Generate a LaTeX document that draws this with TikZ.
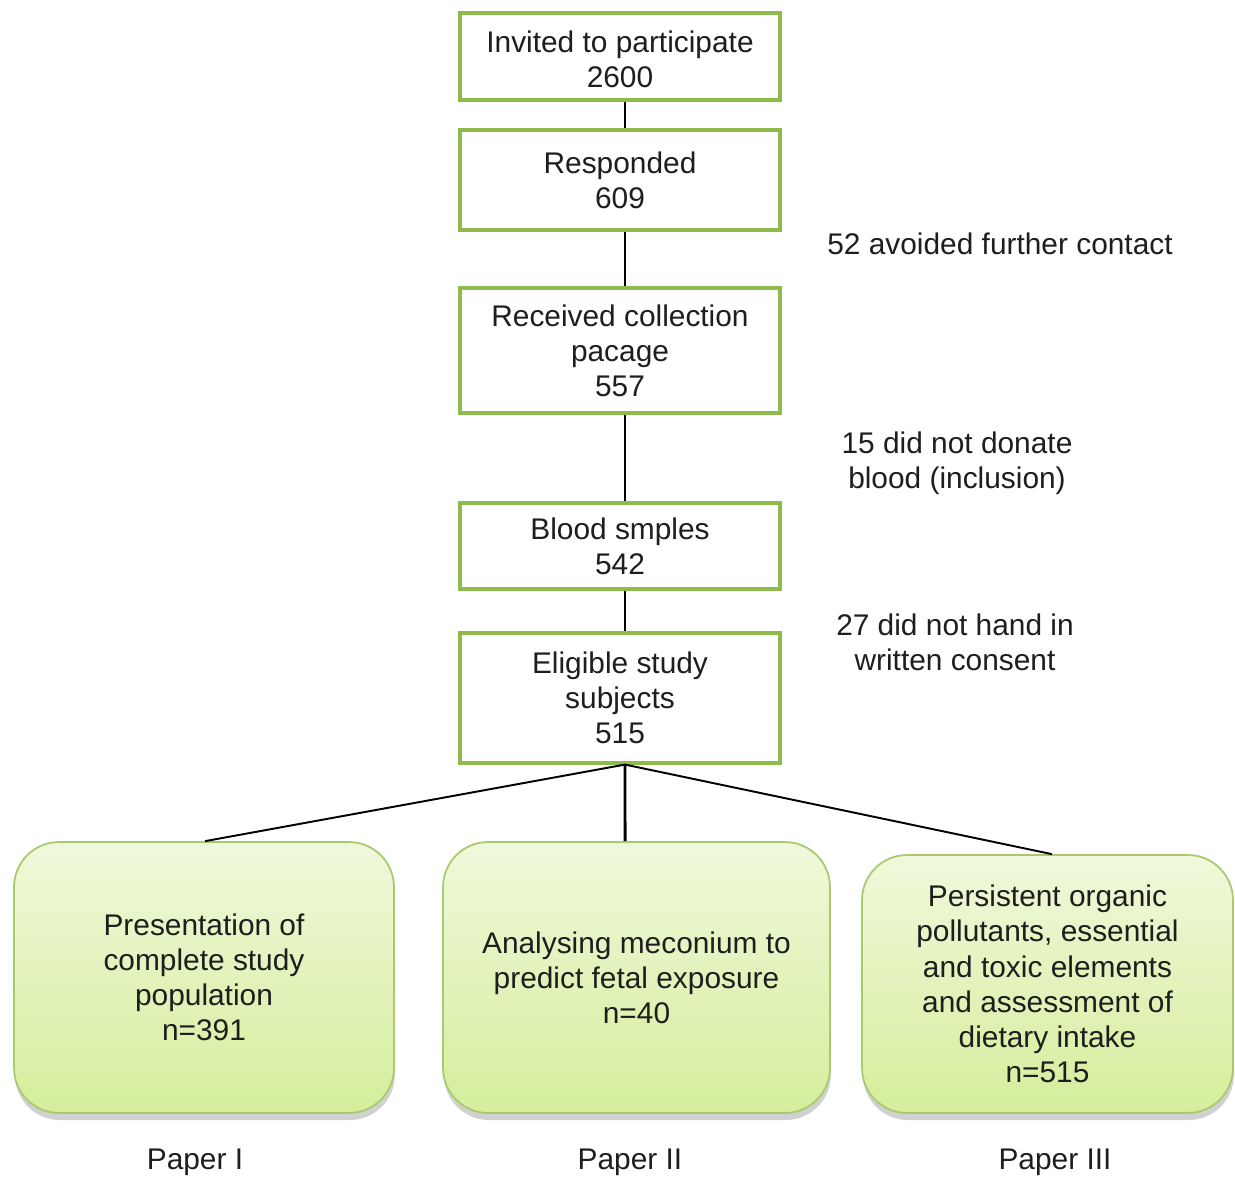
\documentclass[tikz,border=0pt]{standalone}
\usepackage{fontspec}
\setmainfont{Liberation Sans}
\usetikzlibrary{shadows}
\definecolor{rectgreen}{HTML}{8DBB4C}
\definecolor{roundgreen}{HTML}{A8C96E}
\definecolor{filltop}{HTML}{F0F8DB}
\definecolor{fillbot}{HTML}{D5EE9C}
\definecolor{txt}{HTML}{1E1E1E}
\begin{document}
\begin{tikzpicture}[x=0.02cm,y=-0.02cm,
  every node/.style={font=\fontsize{17}{20}\selectfont, text=txt, align=center},
  flowbox/.style={draw=rectgreen, line width=1.8pt, fill=white, minimum width=6.4cm, inner sep=0pt},
  paperbox/.style={draw=roundgreen, line width=1pt, rounded corners=0.9cm, top color=filltop, bottom color=fillbot,
     drop shadow={shadow xshift=0.5pt, shadow yshift=-4pt, opacity=0.3, fill=black!60}, inner sep=0pt},
  link/.style={line width=1.1pt, black},
  note/.style={inner sep=0pt}
]
\useasboundingbox (0,0) rectangle (1235,1178);

\node[flowbox, minimum height=1.74cm, text depth=0pt] (b1) at (620,56.5) {\raisebox{-3pt}{\shortstack{Invited to participate\\[2pt]2600}}};
\node[flowbox, minimum height=2cm] (b2) at (620,180) {Responded\\609};
\node[flowbox, minimum height=2.5cm] (b3) at (620,350.5) {Received collection\\pacage\\557};
\node[flowbox, minimum height=1.72cm] (b4) at (620,546) {Blood smples\\542};
\node[flowbox, minimum height=2.6cm] (b5) at (620,698) {Eligible study\\subjects\\515};

\node[paperbox, minimum width=7.6cm, minimum height=5.42cm] (pA) at (204,977.5) {Presentation of\\complete study\\population\\n=391};
\node[paperbox, minimum width=7.74cm, minimum height=5.42cm] (pB) at (636.5,977.5) {Analysing meconium to\\predict fetal exposure\\n=40};
\node[paperbox, minimum width=7.42cm, minimum height=5.16cm] (pC) at (1047.5,984) {Persistent organic\\pollutants, essential\\and toxic elements\\and assessment of\\dietary intake\\n=515};

\node[note] (n1) at (1000,244) {52 avoided further contact};
\node[note] (n2) at (957,463) {15 did not donate\\blood (inclusion)};
\node[note] (n3) at (955,642) {27 did not hand in\\written consent};

\node[note] (l1) at (195,1162) {Paper I};
\node[note] (l2) at (630,1162) {Paper II};
\node[note] (l3) at (1055,1162) {Paper III};

\draw[link] ([xshift=0.1cm]b1.south) -- ([xshift=0.1cm]b2.north);
\draw[link] ([xshift=0.1cm]b2.south) -- ([xshift=0.1cm]b3.north);
\draw[link] ([xshift=0.1cm]b3.south) -- ([xshift=0.1cm]b4.north);
\draw[link] ([xshift=0.1cm]b4.south) -- ([xshift=0.1cm]b5.north);
\draw[link] ([xshift=0.1cm]b5.south) -- ([xshift=0.02cm]pA.north);
\draw[line width=1.7pt] ([xshift=0.1cm]b5.south) -- ([xshift=-0.23cm]pB.north);
\draw[link] ([xshift=0.1cm]b5.south) -- ([xshift=0.09cm]pC.north);
\end{tikzpicture}
\end{document}
